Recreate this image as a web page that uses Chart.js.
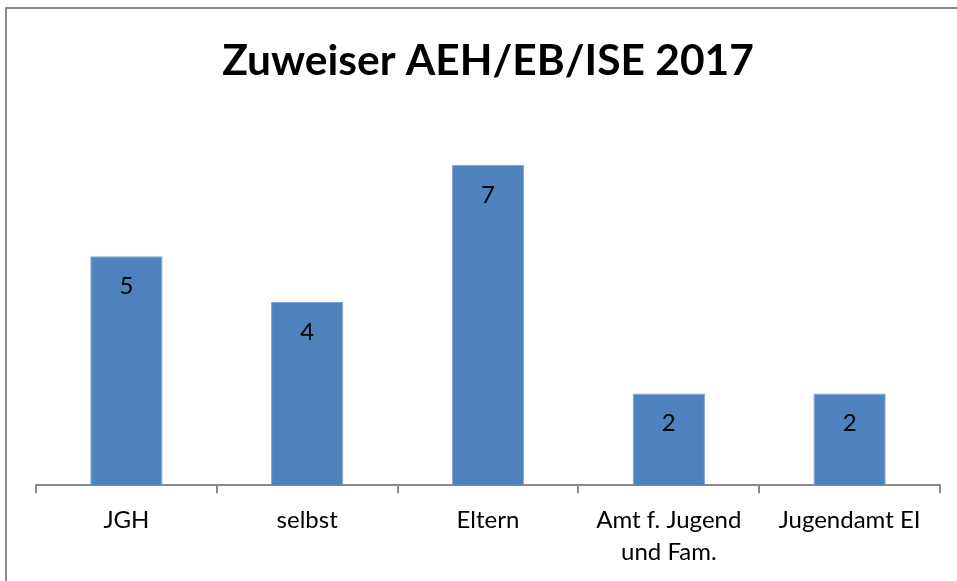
<!DOCTYPE html>
<html>
<head>
<meta charset="utf-8">
<script src="https://cdn.jsdelivr.net/npm/chart.js@4.4.0/dist/chart.umd.min.js"></script>
<style>
    html, body { margin: 0; padding: 0; background: #fff; overflow: hidden; }
    #wrap { position: relative; width: 957px; height: 581px; }
    #frame {
        position: absolute; left: 5px; top: 7px; width: 1000px; height: 700px;
        border: 2px solid #8a8a8a; box-sizing: border-box;
    }
    canvas { position: absolute; left: 0; top: 0; }
</style>
</head>
<body>
<div id="wrap">
    <div id="frame"></div>
    <canvas id="chart" width="957" height="581"></canvas>
</div>
<script>
// Chart data
const categories = ['JGH', 'selbst', 'Eltern', ['Amt f. Jugend', 'und Fam.'], 'Jugendamt EI'];
const zuweiser = [5, 4, 7, 2, 2];

const FONT = 'Lato, "Open Sans", sans-serif';

// draws the value inside each bar near its top
const barLabels = {
    id: 'barLabels',
    afterDatasetsDraw(chart) {
        const ctx = chart.ctx;
        const meta = chart.getDatasetMeta(0);
        ctx.save();
        ctx.fillStyle = '#000';
        ctx.font = '24px ' + FONT;
        ctx.textAlign = 'center';
        ctx.textBaseline = 'middle';
        meta.data.forEach(function(bar, i) {
            ctx.fillText(String(zuweiser[i]), bar.x, bar.y + 30);
        });
        ctx.restore();
    }
};

document.addEventListener('DOMContentLoaded', function() {
    const ctx = document.getElementById('chart');

    new Chart(ctx, {
        type: 'bar',
        data: {
            labels: categories,
            datasets: [{
                data: zuweiser,
                backgroundColor: '#4F81BD',
                borderColor: '#7fa3d0',
                borderWidth: 1,
                categoryPercentage: 1,
                barPercentage: 0.4
            }]
        },
        options: {
            responsive: false,
            animation: false,
            layout: {
                padding: { left: 36, right: 17, top: 0, bottom: 2 }
            },
            scales: {
                y: {
                    display: false,
                    min: 0,
                    max: 8
                },
                x: {
                    grid: {
                        display: true,
                        drawOnChartArea: false,
                        drawTicks: true,
                        tickLength: 8,
                        color: '#8a8a8a',
                        lineWidth: 2
                    },
                    border: {
                        color: '#8a8a8a',
                        width: 2
                    },
                    ticks: {
                        color: '#000',
                        padding: 11,
                        maxRotation: 0,
                        font: { family: FONT, size: 24, lineHeight: 1.33 }
                    }
                }
            },
            plugins: {
                legend: { display: false },
                tooltip: { enabled: false },
                title: {
                    display: true,
                    text: 'Zuweiser AEH/EB/ISE 2017',
                    color: '#000',
                    font: { family: FONT, size: 42.5, weight: 'bold', lineHeight: 1.2 },
                    padding: { top: 36, bottom: 32 }
                }
            }
        },
        plugins: [barLabels]
    });
});
</script>
</body>
</html>
